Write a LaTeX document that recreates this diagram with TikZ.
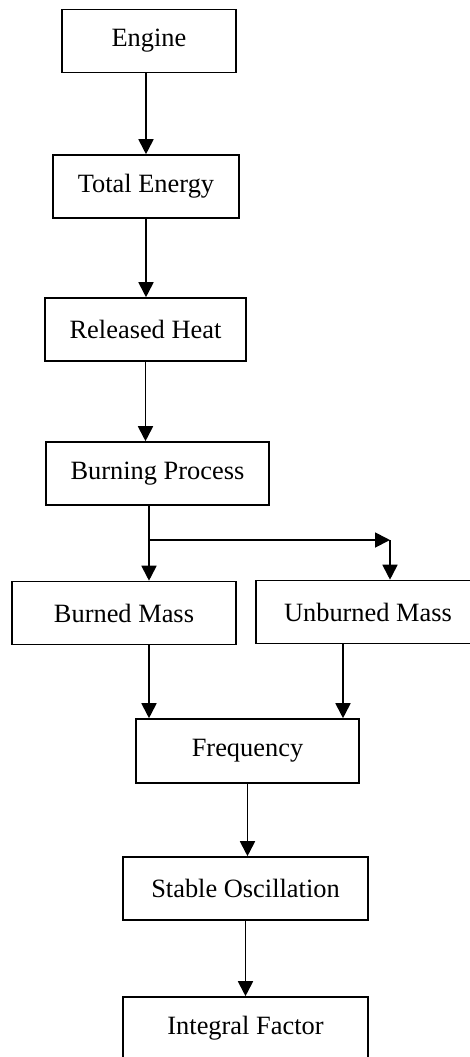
\documentclass[tikz,border=0pt]{standalone}
\usepackage{fontspec}
\setmainfont{Liberation Serif}
\usetikzlibrary{arrows.meta}

\begin{document}
\begin{tikzpicture}[
    x=0.5pt, y=-0.5pt,
    box/.style={draw, line width=0.8pt, minimum height=31.5pt, inner sep=0pt, align=center,
      font=\fontsize{13.2}{16}\selectfont},
    flow/.style={-{Triangle[length=7.5pt, width=7.5pt]}, line width=0.9pt}]
  \useasboundingbox (0,0) rectangle (470,1057);
  \node[box, minimum width=87pt] (engine) at (149,41) {Engine};
  \node[box, minimum width=93pt] (total) at (146,186.5) {Total Energy};
  \node[box, minimum width=100.5pt] (released) at (145.5,329.5) {Released Heat};
  \node[box, minimum width=111.5pt] (burning) at (157.5,473.5) {Burning Process};
  \node[box, minimum width=112pt] (burned) at (124,613) {Burned Mass};
  \node[box, minimum width=112pt] (unburned) at (368,612) {Unburned Mass};
  \node[box, minimum width=111.5pt, minimum height=32pt] (freq) at (247.5,751) {Frequency};
  \node[box, minimum width=122.5pt] (stable) at (245.5,888.5) {Stable Oscillation};
  \node[box, minimum width=122.5pt] (integral) at (245.5,1028.5) {Integral Factor};
  % split below the burning process
  \coordinate (fork) at (149,540);
  \coordinate (corner) at (390,540);
  \draw[flow] (engine.south -| total.north) -- (total.north);
  \draw[flow] (total.south) -- (total.south |- released.north);
  \draw[flow] (released.south) -- (released.south |- burning.north);
  \draw[line width=0.9pt] (burning.south -| fork) -- (fork);
  \draw[flow] (fork) -- (burned.north -| fork);
  \draw[flow] (fork) -- (corner);
  \draw[flow] (corner) -- (unburned.north -| corner);
  \draw[flow] (burned.south -| fork) -- (freq.north -| fork);
  \draw[flow] ([xshift=-12.5pt]unburned.south) -- ([xshift=-12.5pt]unburned.south |- freq.north);
  \draw[flow] (freq.south) -- (freq.south |- stable.north);
  \draw[flow] (stable.south) -- (integral.north);
\end{tikzpicture}
\end{document}
